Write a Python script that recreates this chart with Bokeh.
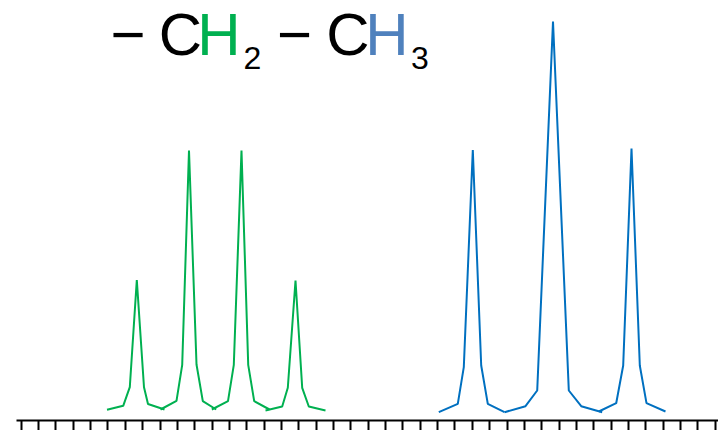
from bokeh.plotting import figure
from bokeh.models import Range1d, LinearAxis, SingleIntervalTicker, Label
from bokeh.embed import file_html
from bokeh.resources import INLINE

# x in units of axis tick spacing (unlabelled axis, 41 ticks), y = intensity (arbitrary units)
ch2_x = [
    [4.945, 5.879, 6.259, 6.663, 7.078, 7.308, 8.259],
    [8.029, 8.951, 9.280, 9.671, 10.104, 10.467, 11.239],
    [10.986, 11.919, 12.254, 12.697, 13.084, 13.429, 14.311],
    [14.081, 15.043, 15.366, 15.810, 16.196, 16.576, 17.539],
]
ch2_y = [
    [10.7, 14.7, 33.3, 140.5, 33.3, 16.5, 11.0],
    [11.0, 19.7, 55.7, 270.0, 56.0, 19.3, 11.0],
    [11.0, 19.3, 55.7, 270.0, 55.7, 19.3, 11.0],
    [10.0, 14.0, 32.7, 140.0, 32.7, 14.0, 10.0],
]
ch3_x = [
    [24.069, 25.164, 25.510, 26.029, 26.513, 26.893, 27.856],
    [27.856, 29.066, 29.741, 30.651, 31.562, 32.277, 33.487],
    [33.291, 34.294, 34.697, 35.176, 35.654, 36.040, 37.135],
]
ch3_y = [
    [8.3, 16.7, 53.3, 270.5, 55.0, 16.7, 8.3],
    [8.3, 14.3, 30.0, 399.0, 30.0, 14.3, 8.3],
    [9.0, 17.3, 55.0, 272.0, 55.0, 17.3, 9.0],
]

GREEN = "#00B050"
BLUE_LINE = "#0070C0"
BLUE_TEXT = "#4F81BD"

p = figure(width=718, height=430, output_backend="svg", toolbar_location=None,
           x_range=Range1d(-0.271, 40.19), y_range=Range1d(0, 420),
           x_axis_location=None, y_axis_location=None,
           min_border=0, min_border_left=16, min_border_right=0,
           min_border_top=0, min_border_bottom=0,
           outline_line_color=None, background_fill_color="white")
for g in list(p.xgrid) + list(p.ygrid):
    g.visible = False

ax = LinearAxis(ticker=SingleIntervalTicker(interval=1, num_minor_ticks=0))
ax.axis_line_width = 2
ax.axis_line_color = "black"
ax.major_tick_line_width = 2
ax.major_tick_line_color = "black"
ax.major_tick_in = 0
ax.major_tick_out = 10
ax.minor_tick_line_color = None
ax.major_label_text_font_size = "1px"
ax.major_label_text_color = None
ax.major_label_standoff = 0
p.add_layout(ax, "below")

for xs, ys in zip(ch2_x, ch2_y):
    p.line(xs, ys, line_color=GREEN, line_width=2)
for xs, ys in zip(ch3_x, ch3_y):
    p.line(xs, ys, line_color=BLUE_LINE, line_width=2)

# formula label: pieces centred on positions (reference pixel -> data)
def xd(px):
    return (px - 20.7) / 17.35

def yd(py):
    return 420 - py

FONT = "Liberation Sans"
pieces = [
    ("\u2212", 127.5, 34.0, "60px", "black"),
    ("C", 180.0, 33.5, "60px", "black"),
    ("H", 218.5, 33.5, "60px", GREEN),
    ("2", 252.0, 57.0, "32px", "black"),
    ("\u2212", 294.0, 34.0, "60px", "black"),
    ("C", 347.5, 33.5, "60px", "black"),
    ("H", 386.5, 33.5, "60px", BLUE_TEXT),
    ("3", 419.5, 57.0, "32px", "black"),
]
for t, px, py, fs, col in pieces:
    p.add_layout(Label(x=xd(px), y=yd(py), text=t, text_font=FONT,
                       text_font_size=fs, text_color=col,
                       text_align="center", text_baseline="middle"))

open("out.html", "w").write(file_html(p, INLINE))
